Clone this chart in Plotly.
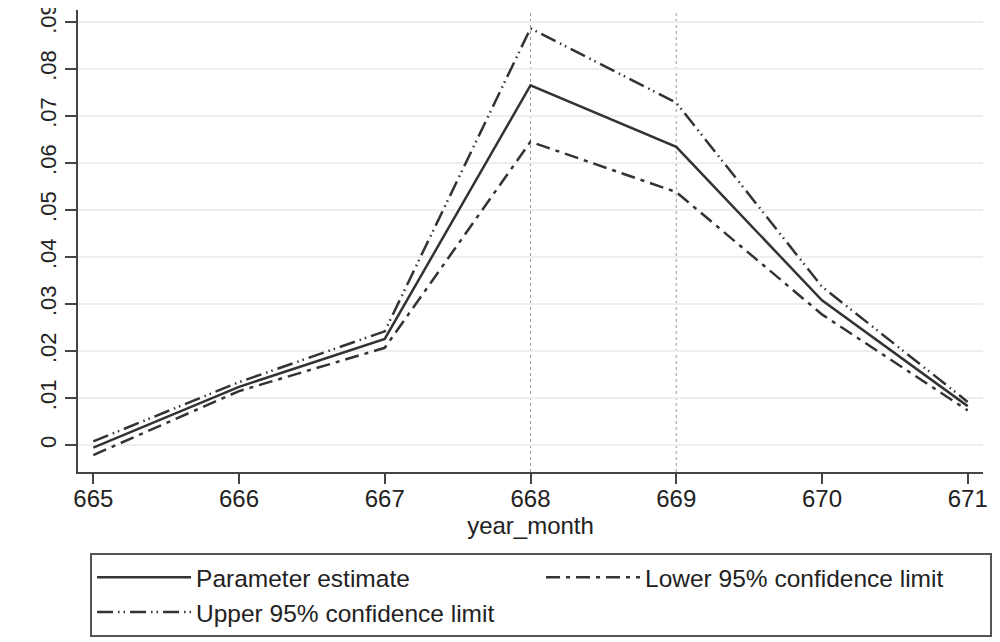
import plotly.graph_objects as go

year_month = [665, 666, 667, 668, 669, 670, 671]
estimate = [-0.0005, 0.0124, 0.0226, 0.0765, 0.0634, 0.0308, 0.0083]
lower = [-0.0021, 0.0115, 0.0207, 0.0645, 0.0538, 0.0278, 0.0074]
upper = [0.0008, 0.0134, 0.0242, 0.0886, 0.0728, 0.0337, 0.0092]
y_ticks = [0, 0.01, 0.02, 0.03, 0.04, 0.05, 0.06, 0.07, 0.08, 0.09]
y_ticklabels = ["0", ".01", ".02", ".03", ".04", ".05", ".06", ".07", ".08", ".09"]
ref_lines = [668, 669]

line_color = "#333333"
font_family = "Liberation Sans, Arial, sans-serif"

fig = go.Figure()
fig.add_trace(go.Scatter(x=year_month, y=estimate, mode="lines", name="Parameter estimate",
                         line=dict(color=line_color, width=2.5)))
fig.add_trace(go.Scatter(x=year_month, y=lower, mode="lines", name="Lower 95% confidence limit",
                         line=dict(color=line_color, width=2.5, dash="14px,6px,4px,6px")))
fig.add_trace(go.Scatter(x=year_month, y=upper, mode="lines", name="Upper 95% confidence limit",
                         line=dict(color=line_color, width=2.5, dash="16px,5px,1.5px,4px,1.5px,5px")))

for xv in ref_lines:
    fig.add_vline(x=xv, line=dict(color="#999999", width=1, dash="dot"), layer="below")

fig.update_layout(
    width=992, height=634,
    margin=dict(l=70, r=17, t=2, b=170, autoexpand=False),
    paper_bgcolor="white", plot_bgcolor="white",
    font=dict(family=font_family, color="#222222"),
    showlegend=True,
    legend=dict(
        orientation="h", x=0.0133, xanchor="left", y=-0.175, yanchor="top",
        entrywidth=340, entrywidthmode="pixels", itemwidth=94,
        font=dict(size=24.5, color="#222222"),
        bordercolor="#555555", borderwidth=2, bgcolor="white",
    ),
    xaxis=dict(
        range=[664.895, 671.105], tickmode="array", tickvals=year_month,
        ticks="outside", ticklen=10, tickwidth=2, tickcolor="#444444",
        showgrid=False, zeroline=False, showline=True, linecolor="#444444", linewidth=2,
        tickfont=dict(size=24), automargin=False, ticklabelstandoff=-6,
        title=dict(text="year_month", font=dict(size=24), standoff=2),
    ),
    yaxis=dict(
        range=[-0.0057, 0.0925], tickmode="array", tickvals=y_ticks, ticktext=y_ticklabels,
        tickangle=-90, ticks="outside", ticklen=11, tickwidth=2, tickcolor="#444444",
        showgrid=True, gridcolor="#eceef2", gridwidth=1.5, zeroline=False,
        showline=True, linecolor="#444444", linewidth=2,
        tickfont=dict(size=22), automargin=False, ticklabeloverflow="allow",
    ),
)

fig.write_html("out.html")
